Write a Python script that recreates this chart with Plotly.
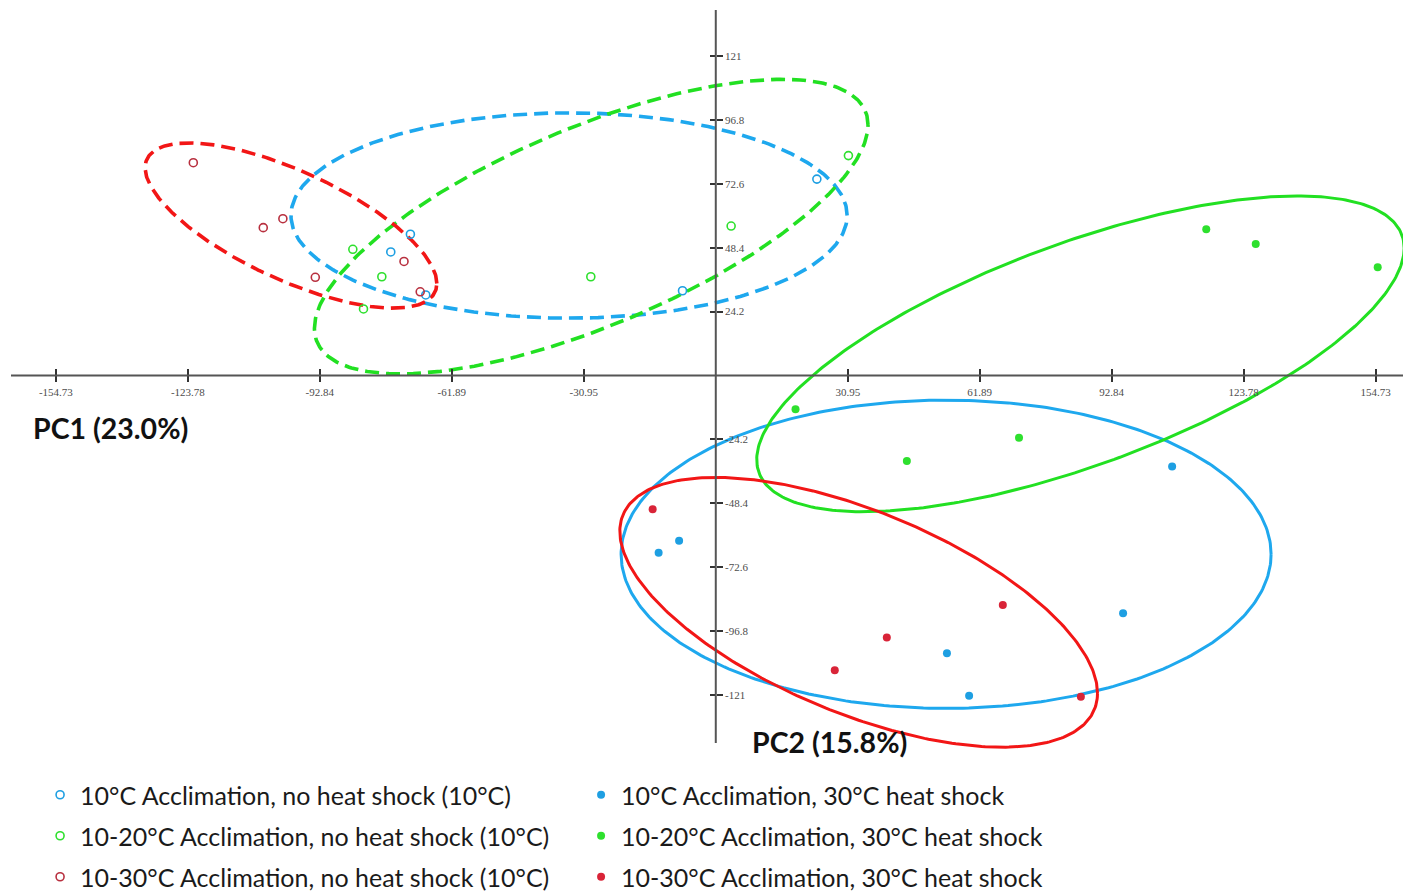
import numpy as np
import plotly.graph_objects as go

# ---------------- data (PC1, PC2 scores) ----------------
X_TICKS = [-154.73, -123.78, -92.84, -61.89, -30.95, 30.95, 61.89, 92.84, 123.78, 154.73]
X_TICK_TEXT = ["-154.73", "-123.78", "-92.84", "-61.89", "-30.95", "30.95", "61.89", "92.84", "123.78", "154.73"]
Y_TICKS = [121, 96.8, 72.6, 48.4, 24.2, -24.2, -48.4, -72.6, -96.8, -121]
Y_TICK_TEXT = ["121", "96.8", "72.6", "48.4", "24.2", "-24.2", "-48.4", "-72.6", "-96.8", "-121"]

names = [
    "10°C Acclimation, no heat shock (10°C)",
    "10°C Acclimation, 30°C heat shock",
    "10-20°C Acclimation, no heat shock (10°C)",
    "10-20°C Acclimation, 30°C heat shock",
    "10-30°C Acclimation, no heat shock (10°C)",
    "10-30°C Acclimation, 30°C heat shock",
]

a10_nhs_x = [-71.6, -76.2, -68.0, -7.8, 23.7]
a10_nhs_y = [53.5, 46.8, 30.5, 32.1, 74.4]
a10_hs_x = [107.0, -8.6, -13.4, 54.2, 59.4, 95.5]
a10_hs_y = [-34.5, -62.6, -67.1, -105.2, -121.3, -90.1]

a1020_nhs_x = [-85.1, -78.3, -82.6, -29.3, 3.6, 31.1]
a1020_nhs_y = [47.8, 37.4, 25.2, 37.4, 56.6, 83.3]
a1020_hs_x = [18.7, 44.8, 71.1, 115.0, 126.6, 155.2]
a1020_hs_y = [-12.8, -32.4, -23.6, 55.4, 49.8, 41.0]

a1030_nhs_x = [-122.5, -106.1, -101.5, -93.9, -73.1, -69.3]
a1030_nhs_y = [80.6, 56.0, 59.4, 37.2, 43.2, 31.7]
a1030_hs_x = [-14.8, 67.3, 40.1, 27.9, 85.6]
a1030_hs_y = [-50.7, -86.9, -99.2, -111.6, -121.7]

# group ellipses: centre, half-extent in x and y, correlation
ell_cx = [-34.4, 54.0, -29.2, 85.5, -99.6, 33.5]
ell_cy = [60.6, -67.7, 56.4, 8.2, 56.8, -89.7]
ell_sx = [65.2, 76.2, 64.9, 75.9, 34.2, 56.0]
ell_sy = [38.9, 58.4, 55.8, 59.8, 31.3, 51.1]
ell_rho = [0.0, 0.0, 0.69, 0.67, -0.70, -0.60]

# ---------------- styles ----------------
BLUE = "#1ea8ee"
GREEN = "#22e022"
RED = "#f21616"
PT_BLUE = "#1e9fe2"
PT_GREEN = "#2ee02e"
PT_RED_OPEN = "#b8303f"
PT_RED = "#d92438"

groups = [
    (a10_nhs_x, a10_nhs_y, True, PT_BLUE, BLUE, "legend"),
    (a10_hs_x, a10_hs_y, False, PT_BLUE, BLUE, "legend"),
    (a1020_nhs_x, a1020_nhs_y, True, PT_GREEN, GREEN, "legend2"),
    (a1020_hs_x, a1020_hs_y, False, PT_GREEN, GREEN, "legend2"),
    (a1030_nhs_x, a1030_nhs_y, True, PT_RED_OPEN, RED, "legend3"),
    (a1030_hs_x, a1030_hs_y, False, PT_RED, RED, "legend3"),
]

W, H = 1395, 886
PH = 762                      # plot area height (px)
MB = H - PH
XR = [-165.95, 161.13]
YR = [-149.43, 139.2]

fig = go.Figure()

# ellipses
t = np.linspace(0, 2 * np.pi, 361)
for i, (gx, gy, is_open, pc, lc, lg) in enumerate(groups):
    ex = ell_cx[i] + ell_sx[i] * np.cos(t)
    ey = ell_cy[i] + ell_sy[i] * (ell_rho[i] * np.cos(t) + np.sqrt(1 - ell_rho[i] ** 2) * np.sin(t))
    fig.add_trace(go.Scatter(
        x=ex, y=ey, mode="lines",
        line=dict(color=lc, width=3.6 if is_open else 3.0, dash="14px,7px" if is_open else "solid"),
        showlegend=False, hoverinfo="skip"))

# points
for i, (gx, gy, is_open, pc, lc, lg) in enumerate(groups):
    fig.add_trace(go.Scatter(
        x=gx, y=gy, mode="markers", name=names[i], legend=lg,
        marker=dict(symbol="circle-open" if is_open else "circle", size=8,
                    color=pc, line=dict(width=1.6 if is_open else 0, color=pc)),
    ))

# helper trace for the mirrored tick axes
fig.add_trace(go.Scatter(x=[None], y=[None], xaxis="x2", yaxis="y2", showlegend=False, hoverinfo="skip"))

py0 = (0 - YR[0]) / (YR[1] - YR[0])
px0 = (0 - XR[0]) / (XR[1] - XR[0])

tick_font = dict(family="Liberation Serif", size=11, color="#4d4d4d")
fig.update_layout(
    width=W, height=H,
    margin=dict(l=0, r=0, t=0, b=MB, autoexpand=False),
    paper_bgcolor="white", plot_bgcolor="white",
    xaxis=dict(range=XR, anchor="free", position=py0, side="bottom",
               showgrid=False, zeroline=False, showline=False,
               tickmode="array", tickvals=X_TICKS, ticktext=X_TICK_TEXT,
               ticks="outside", ticklen=6, tickwidth=1.5, tickcolor="#333333",
               tickfont=tick_font),
    yaxis=dict(range=YR, anchor="free", position=px0, side="right",
               showgrid=False, zeroline=False, showline=False,
               tickmode="array", tickvals=Y_TICKS, ticktext=Y_TICK_TEXT,
               ticks="outside", ticklen=6, tickwidth=1.5, tickcolor="#333333",
               tickfont=tick_font),
    xaxis2=dict(range=XR, overlaying="x", anchor="free", position=py0, side="top",
                showgrid=False, zeroline=False, showline=False, showticklabels=False,
                tickmode="array", tickvals=X_TICKS,
                ticks="outside", ticklen=6, tickwidth=1.5, tickcolor="#333333"),
    yaxis2=dict(range=YR, overlaying="y", anchor="free", position=px0, side="left",
                showgrid=False, zeroline=False, showline=False, showticklabels=False,
                tickmode="array", tickvals=Y_TICKS,
                ticks="outside", ticklen=6, tickwidth=1.5, tickcolor="#333333"),
    shapes=[
        dict(type="line", xref="paper", yref="y", x0=3 / W, x1=1, y0=0, y1=0,
             line=dict(color="#555555", width=2), layer="above"),
        dict(type="line", xref="x", yref="paper", x0=0, x1=0, y0=(PH - 735) / PH, y1=(PH - 2) / PH,
             line=dict(color="#555555", width=2), layer="above"),
    ],
    annotations=[
        dict(text="<b>PC1 (23.0%)</b>", x=-160.6, y=-19.9, xref="x", yref="y",
             xanchor="left", yanchor="middle", showarrow=False,
             font=dict(family="Lato", size=28.5, color="#111111")),
        dict(text="<b>PC2 (15.8%)</b>", x=8.0, y=-138.8, xref="x", yref="y",
             xanchor="left", yanchor="middle", showarrow=False,
             font=dict(family="Lato", size=28.5, color="#111111")),
    ],
    showlegend=True,
)

leg_common = dict(orientation="h", xanchor="left", yanchor="middle", x=(0.025 * 1403 - 3) / W,
                  entrywidth=496, entrywidthmode="pixels",
                  bgcolor="rgba(0,0,0,0)", borderwidth=0,
                  font=dict(family="Lato", size=25, color="#1a1a1a"))
fig.update_layout(
    legend=dict(y=(PH - 787) / PH, **leg_common),
    legend2=dict(y=(PH - 828) / PH, **leg_common),
    legend3=dict(y=(PH - 869) / PH, **leg_common),
)

fig.write_html("out.html")
